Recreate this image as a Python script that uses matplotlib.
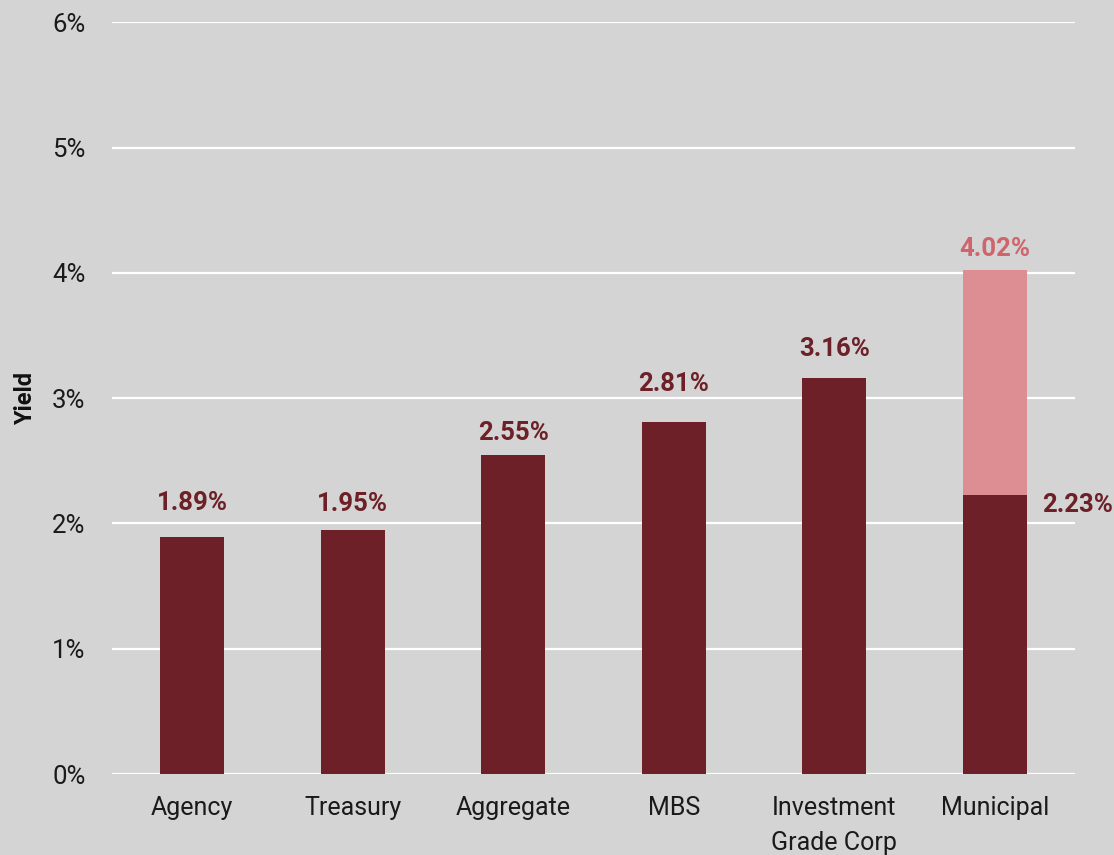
import matplotlib
matplotlib.use("Agg")
import matplotlib.pyplot as plt

categories = ["Agency", "Treasury", "Aggregate", "MBS", "Investment\nGrade Corp", "Municipal"]
yields = [1.89, 1.95, 2.55, 2.81, 3.16, 2.23]
# Taxable-equivalent yield stacked on the municipal bar
muni_taxable_equiv = 4.02
y_ticks = [0, 1, 2, 3, 4, 5, 6]

# Vertical offset (points) from each bar top to the centre of its value label
label_offsets = [26.4, 20.6, 17.6, 29.4, 23.0]
muni_label_offset = (11.3, -6.0)
teq_label_offset = 17.0

DARK = "#6d2027"
PINK = "#dc8e93"
PINK_TEXT = "#d0646c"
BG = "#d3d4d3"
TEXT = "#1a1a1a"

plt.rcParams["font.family"] = ["Roboto", "DejaVu Sans"]

fig = plt.figure(figsize=(11.14, 8.55), dpi=100, facecolor=BG)
ax = fig.add_axes([0.1005, 0.0947, 0.8645, 0.8793], facecolor=BG)

x = list(range(len(categories)))
width = 0.4
ax.bar(x, yields, width=width, color=DARK, zorder=3)
ax.bar(x[-1], muni_taxable_equiv - yields[-1], bottom=yields[-1], width=width,
       color=PINK, zorder=3)

for xi, v, off in zip(x[:-1], yields[:-1], label_offsets):
    ax.annotate(f"{v:.2f}%", (xi, v), xytext=(0, off), textcoords="offset points",
                ha="center", va="center_baseline", fontsize=18.5, fontweight="bold",
                color=DARK)
ax.annotate(f"{yields[-1]:.2f}%", (x[-1] + width / 2, yields[-1]),
            xytext=muni_label_offset, textcoords="offset points", ha="left",
            va="center_baseline", fontsize=18.5, fontweight="bold", color=DARK)
ax.annotate(f"{muni_taxable_equiv:.2f}%", (x[-1], muni_taxable_equiv),
            xytext=(0, teq_label_offset), textcoords="offset points", ha="center",
            va="center_baseline", fontsize=18.5, fontweight="bold", color=PINK_TEXT)

ax.set_xlim(-0.5, len(categories) - 0.5)
ax.set_ylim(0, 6)
ax.set_yticks(y_ticks)
ax.set_yticklabels([f"{t}%" for t in y_ticks], fontsize=18.5, color=TEXT)
ax.set_xticks(x)
ax.set_xticklabels(categories, fontsize=18, color=TEXT, linespacing=1.55)
ax.tick_params(axis="both", length=0)
ax.tick_params(axis="y", pad=19)
ax.tick_params(axis="x", pad=16)
for s in ax.spines.values():
    s.set_visible(False)
ax.grid(axis="y", color="white", linewidth=1.6, zorder=1)
ax.set_axisbelow(True)
ax.set_ylabel("Yield", fontsize=17, fontweight="bold", labelpad=11, color="#111111")

fig.savefig("out.png", dpi=100, facecolor=BG)
